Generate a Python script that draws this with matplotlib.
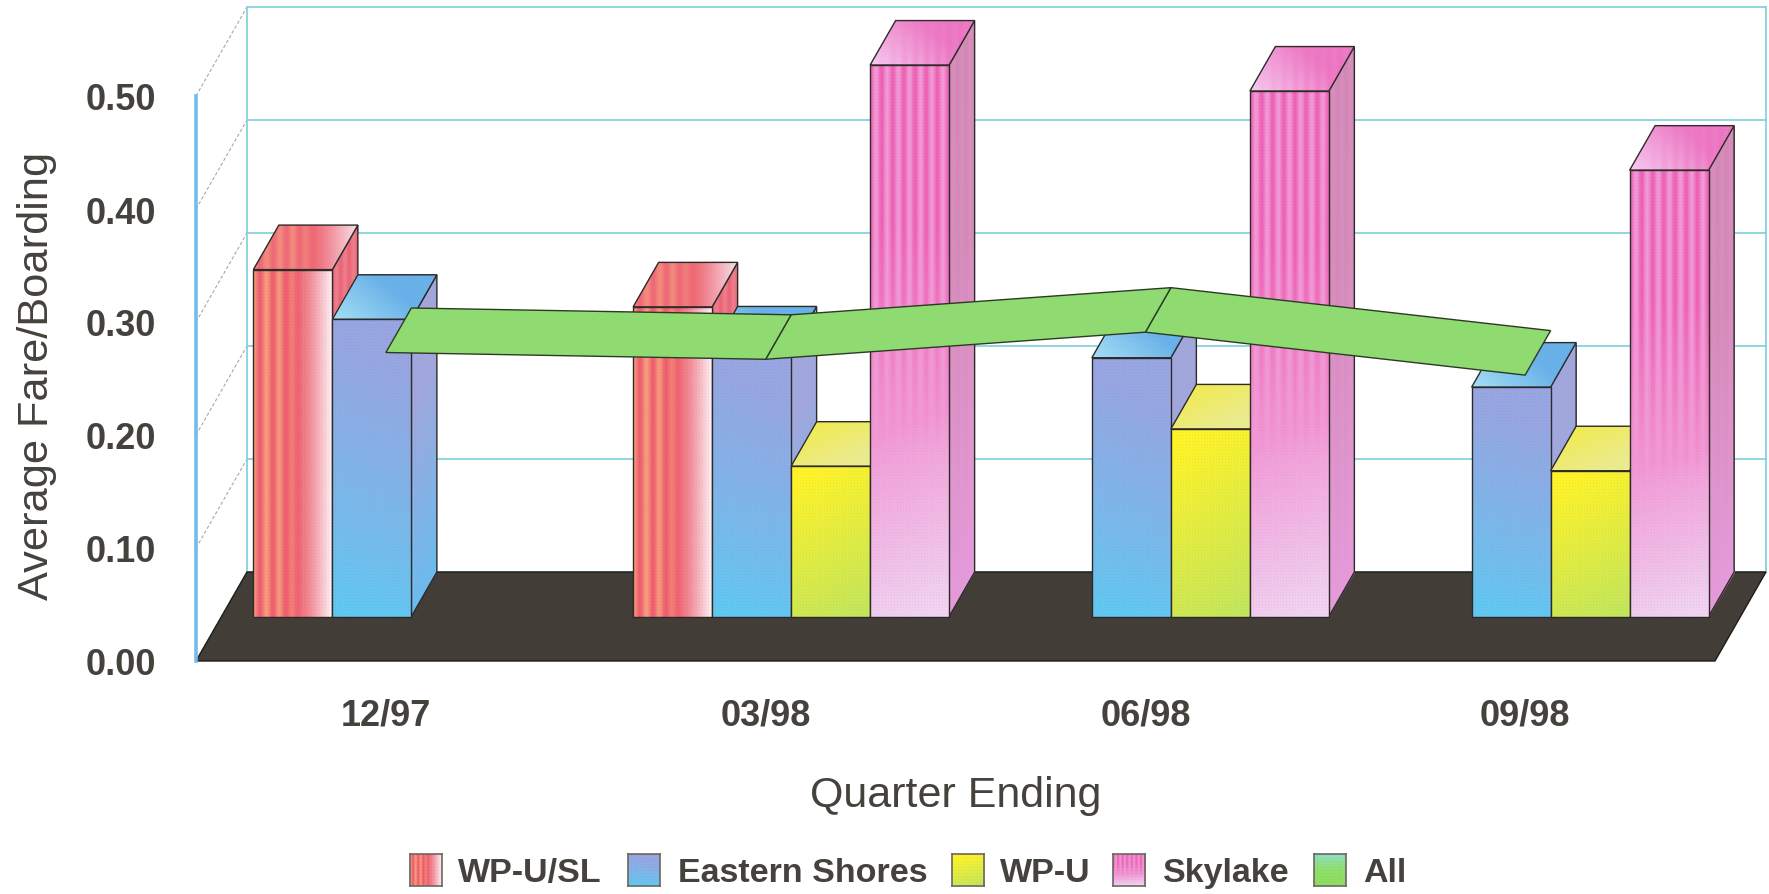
import numpy as np
import matplotlib
matplotlib.use("Agg")
import matplotlib.pyplot as plt
from matplotlib.colors import to_rgb
from matplotlib.patches import Polygon
from matplotlib.transforms import Affine2D

plt.rcParams['font.family'] = ['Liberation Sans', 'DejaVu Sans']

# 每季度的平均票价
quarters = ['12/97', '03/98', '06/98', '09/98']
series_names = ['WP-U/SL', 'Eastern Shores', 'WP-U', 'Skylake']
wp_u_sl = [0.307, 0.274, np.nan, np.nan]
eastern_shores = [0.263, 0.235, 0.229, 0.203]
wp_u = [np.nan, 0.133, 0.166, 0.129]
skylake = [np.nan, 0.488, 0.465, 0.395]
all_routes = [0.273, 0.267, 0.291, 0.253]
y_ticks = [0.0, 0.1, 0.2, 0.3, 0.4, 0.5]

W, H = 1769, 895
fig = plt.figure(figsize=(W / 100, H / 100), dpi=100)
ax_left, ax_right, ax_bottom, ax_top = 196, 1715, 662, 97
ax = fig.add_axes([ax_left / W, 1 - ax_bottom / H, (ax_right - ax_left) / W, (ax_bottom - ax_top) / H])
ax.set_xlim(0, 4)
ax.set_ylim(0, 0.5)
ax.set_autoscale_on(False)
ax.patch.set_visible(False)

# 斜投影: depth 从 0 (前) 到 1 (后)
px_x = (ax_right - ax_left) / 4
px_y = (ax_bottom - ax_top) / 0.5
dx = 51 / px_x
dy = 89 / px_y
bar_w = 79 / px_x
INK = '#2e2a2a'
TEXT = '#45413d'
WALL = '#86d2de'


def proj(x, y, d):
    return x + d * dx, y + d * dy


def lerp(a, b, t):
    a, b = np.array(to_rgb(a)), np.array(to_rgb(b))
    t = np.clip(t, 0, 1)[..., None]
    return a * (1 - t) + b * t


def add_stripes(img, U, color, amp, cycles=7):
    s = (0.5 + 0.5 * np.cos(2 * np.pi * U * cycles))[..., None]
    a = np.asarray(amp)[..., None] * s
    return img * (1 - a) + np.array(to_rgb(color)) * a


def stipple(img, amount=0.05):
    # 细网点
    ny, nx = img.shape[:2]
    yy, xx = np.mgrid[:ny, :nx]
    dots = ((xx % 3 == 0) & (yy % 3 == 0))[..., None]
    return np.clip(img * (1 - amount * dots), 0, 1)


def shade(name, face, nx=160, ny=300):
    U, V = np.meshgrid(np.linspace(0, 1, nx), np.linspace(0, 1, ny))
    # 顶面是斜的, 条纹在屏幕上仍要竖直
    S = U + 0.32 * V if face == 'top' else U
    if name == 'WP-U/SL':
        if face == 'side':
            img = add_stripes(lerp('#ee7686', '#ef7f8c', V), U, '#e8566c', 0.6 * np.ones_like(U), 3)
        elif face == 'top':
            t = np.clip((S - 0.8) / 0.5, 0, 1)
            img = lerp('#ef6a78', '#f8dce4', t)
            img = add_stripes(img, S, '#f79a80', 0.7 * np.clip(1 - (S - 0.5) / 0.4, 0, 1), 6)
        else:
            t = np.clip((U - 0.55) / 0.45, 0, 1) ** 1.2
            img = lerp('#ef5f70', '#fdf0f4', t)
            img = add_stripes(img, U, '#f9a67e', 0.85 * np.clip(1 - (U - 0.3) / 0.4, 0, 1), 6)
    elif name == 'Eastern Shores':
        if face == 'top':
            img = lerp('#a6e0f6', '#6ab2ea', np.clip((U + V) / 1.2, 0, 1))
        elif face == 'side':
            img = lerp('#6cbcee', '#a2a8de', np.clip(V * 1.4, 0, 1))
        else:
            img = lerp('#62c8f2', '#98a6e2', np.clip(V ** 0.8 * 1.15 - 0.1 + 0.12 * U, 0, 1))
    elif name == 'WP-U':
        if face == 'top':
            img = lerp('#f2ec50', '#ecec90', np.clip((U + (1 - V)) / 1.6, 0, 1))
        else:
            img = lerp('#fff32a', '#c4e65c', np.clip((1 - V) * 0.9 + 0.25 * U - 0.1, 0, 1))
    else:
        if face == 'top':
            img = lerp('#f8ccf2', '#ee7cc6', np.clip((U + V) / 1.3, 0, 1))
            img = add_stripes(img, S, '#ee6cbc', 0.5 * U, 7)
        elif face == 'side':
            img = lerp('#e69cdc', '#d98fbe', np.clip(V * 1.6, 0, 1))
            img = add_stripes(img, U, '#c87aa8', 0.35 * V, 3)
        else:
            t = np.clip((V - 0.02 + 0.06 * (1 - U)) / 0.36, 0, 1)
            img = lerp('#f0d4f2', '#f29ad6', t)
            img = add_stripes(img, U, '#ee55ae', np.clip((V - 0.3) / 0.4, 0, 1) * 0.8, 7)
    return stipple(img)


def draw_face(name, face, p0, pu, pv, z):
    # 把单位正方形的纹理映射到平行四边形上
    nx = max(int(np.hypot((pu[0] - p0[0]) * px_x, (pu[1] - p0[1]) * px_y)), 8)
    ny = max(int(np.hypot((pv[0] - p0[0]) * px_x, (pv[1] - p0[1]) * px_y)), 8)
    rgb = shade(name, face, nx, ny)
    img = np.dstack([rgb, np.ones(rgb.shape[:2])])
    m = [[pu[0] - p0[0], pv[0] - p0[0], p0[0]],
         [pu[1] - p0[1], pv[1] - p0[1], p0[1]],
         [0, 0, 1]]
    im = ax.imshow(img, extent=(0, 1, 0, 1), origin='lower', aspect='auto', interpolation='bilinear',
                   transform=Affine2D(np.array(m)) + ax.transData, zorder=z, clip_on=False)
    p3 = (pu[0] + pv[0] - p0[0], pu[1] + pv[1] - p0[1])
    outline = Polygon([p0, pu, p3, pv], closed=True, fill=False, ec=INK, lw=1.0, zorder=z + 0.1, clip_on=False)
    ax.add_patch(outline)
    im.set_clip_path(outline)


# 后墙, 侧墙
for v in y_ticks:
    x0, y0 = proj(0, v, 0)
    x1, y1 = proj(0, v, 1)
    x2, y2 = proj(4, v, 1)
    ax.plot([x1, x2], [y1, y2], color=WALL, lw=1.3, zorder=1, clip_on=False)
    ax.plot([x0, x1], [y0, y1], color='#a8a8a8', lw=0.8, ls=(0, (3, 2)), zorder=1, clip_on=False)
for xe in (0, 4):
    x0, y0 = proj(xe, 0, 1)
    x1, y1 = proj(xe, 0.5, 1)
    ax.plot([x0, x1], [y0, y1], color=WALL, lw=1.3, zorder=1, clip_on=False)

# 黑色地板
floor = [proj(0, 0, 0), proj(4, 0, 0), proj(4, 0, 1), proj(0, 0, 1)]
ax.add_patch(Polygon(floor, closed=True, fc='#423d36', ec='#1f1c19', lw=1.0, zorder=2, clip_on=False))

# 柱子: 从左到右画, 右边的盖住左边的侧面
z = 3
all_series = [wp_u_sl, eastern_shores, wp_u, skylake]
for i in range(len(quarters)):
    center = i + 0.5
    for k, (name, vals) in enumerate(zip(series_names, all_series)):
        v = vals[i]
        if np.isnan(v):
            continue
        x = center + (k - 2) * bar_w
        a = proj(x, 0, 0.5)
        b = proj(x + bar_w, 0, 0.5)
        c = proj(x, v, 0.5)
        d = proj(x + bar_w, v, 0.5)
        draw_face(name, 'side', b, proj(x + bar_w, 0, 1), d, z)
        draw_face(name, 'top', c, d, proj(x, v, 1), z + 0.2)
        draw_face(name, 'front', a, b, c, z + 0.4)
        z += 1

# "All" 的带状折线, 在柱子前面
for i in range(len(quarters) - 1):
    pts = [proj(i + 0.5, all_routes[i], 0), proj(i + 1.5, all_routes[i + 1], 0),
           proj(i + 1.5, all_routes[i + 1], 0.5), proj(i + 0.5, all_routes[i], 0.5)]
    ax.add_patch(Polygon(pts, closed=True, fc='#90da72', ec='#2c3a24', lw=1.0, zorder=z + 1 - i * 0.1, clip_on=False))

# 坐标轴
for side in ('top', 'right', 'bottom'):
    ax.spines[side].set_visible(False)
ax.spines['left'].set_color('#74bce8')
ax.spines['left'].set_linewidth(2.6)
ax.spines['left'].set_zorder(z + 2)
ax.set_yticks(y_ticks, ['%.2f' % v for v in y_ticks])
ax.set_xticks(np.arange(len(quarters)) + 0.5, quarters)
ax.tick_params(axis='y', length=0, pad=29, labelsize=26, labelcolor=TEXT)
ax.tick_params(axis='x', length=0, pad=26, labelsize=26, labelcolor=TEXT)
for lab in ax.get_xticklabels() + ax.get_yticklabels():
    lab.set_fontweight('bold')
ax.set_ylabel('Average Fare/Boarding', fontsize=31.2, color=TEXT, va='center')
ax.yaxis.set_label_coords((37 - ax_left) / (ax_right - ax_left), 0.506)
ax.set_xlabel('Quarter Ending', fontsize=31, color=TEXT, va='center')
ax.xaxis.set_label_coords(0.5, (ax_bottom - 796) / (ax_bottom - ax_top))

# 图例
legend_names = series_names + ['All']
swatch_x = [410, 628, 952, 1113, 1314]
label_x = [458, 678, 1000, 1163, 1363]
for name, sx, lx in zip(legend_names, swatch_x, label_x):
    sw = fig.add_axes([sx / W, 1 - 887 / H, 32 / W, 32 / H])
    if name == 'All':
        U, V = np.meshgrid(np.linspace(0, 1, 32), np.linspace(0, 1, 32))
        img = stipple(lerp('#8ede62', '#92e0d0', V ** 3))
    else:
        img = shade(name, 'front', 32, 32)
    sw.imshow(img, origin='lower', aspect='auto', interpolation='bilinear')
    sw.set_xticks([])
    sw.set_yticks([])
    for s in sw.spines.values():
        s.set_color('#6b6660')
        s.set_linewidth(1.2)
    fig.text(lx / W, 1 - 874 / H, name, fontsize=24.5, fontweight='bold', color=TEXT, va='center', ha='left')

ax.set_xlim(0, 4)
ax.set_ylim(0, 0.5)
fig.savefig('out.png', dpi=100, facecolor='white')
